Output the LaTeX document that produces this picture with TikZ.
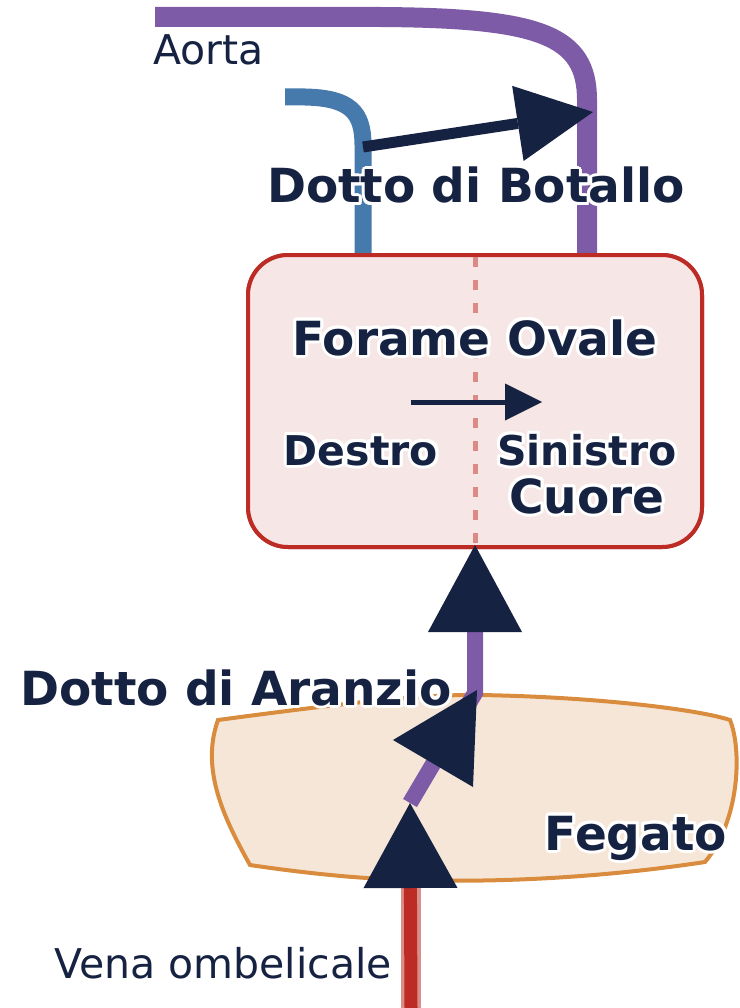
\documentclass[tikz,border=0pt]{standalone}
\usepackage{fontspec}
\setmainfont{DejaVu Sans}
\usepackage{contour}
\contourlength{3pt}
\usetikzlibrary{positioning,arrows.meta}

\definecolor{inchiostro}{HTML}{162241}
\definecolor{aortaviola}{HTML}{7D5BA6}
\definecolor{polmblu}{HTML}{4679AC}
\definecolor{cuorerosso}{HTML}{BC2C25}
\definecolor{cuorefondo}{HTML}{F6E7E6}
\definecolor{settorosa}{HTML}{DB8A85}
\definecolor{fegatobordo}{HTML}{D98C3D}
\definecolor{fegatofondo}{HTML}{F6E6D7}
\definecolor{venachiaro}{HTML}{D98E8A}

\begin{document}
\begin{tikzpicture}[x=1pt,y=-1pt]
    \tikzset{
        titolo/.style={text=inchiostro, inner sep=0pt, font=\bfseries\fontsize{47}{56}\selectfont},
        lato/.style={text=inchiostro, inner sep=0pt, font=\bfseries\fontsize{41}{49}\selectfont},
        nome/.style={text=inchiostro, inner sep=0pt, font=\fontsize{41}{49}\selectfont},
        cuorebox/.style={draw=cuorerosso, fill=cuorefondo, line width=4pt, rounded corners=40pt,
            minimum width=454pt, minimum height=292pt},
        vaso/.style={line width=#1},
        punta/.style={-{Triangle[length=#1, width=#1, line width=0pt, color=inchiostro]}}
    }
    \useasboundingbox (0,0) rectangle (739,1008);

    % fegato
    \draw[fegatobordo, fill=fegatofondo, line width=4pt]
        (218,720) .. controls (330,705) and (420,694) .. (480,695)
        .. controls (600,697) and (700,710) .. (730,720)
        .. controls (742,750) and (740,820) .. (705,862)
        .. controls (600,878) and (480,885) .. (367,878)
        .. controls (320,875) and (270,868) .. (250,865)
        .. controls (225,820) and (200,770) .. (218,720) -- cycle;
    \node[titolo, anchor=base] (fegato) at (636,850) {\contour{white}{Fegato}};

    % vasi in alto
    \coordinate (aortaIn) at (155,17);
    \coordinate (aortaX) at (587,0);
    \coordinate (polmIn) at (285,97);
    \coordinate (polmX) at (363,0);
    \node[cuorebox] (cuore) at (475,401) {};

    \draw[aortaviola, vaso=20pt] (aortaIn) -- (380,17)
        .. controls (540,18) and (587,35) .. (587,100) -- (cuore.north -| aortaX);
    \draw[polmblu, vaso=17pt] (polmIn) -- (305,97)
        .. controls (350,98) and (363,112) .. (363,145) -- (cuore.north -| polmX);
    \node[cuorebox] at (cuore) {};
    \draw[settorosa, line width=5pt, dash pattern=on 10pt off 13pt]
        ([yshift=-4pt]cuore.north) -- ([yshift=4pt]cuore.south);

    \node[nome, anchor=base west] (aorta) at (153,65) {\contour{white}{Aorta}};

    % dotto di Botallo
    \coordinate (botS) at (363,147);
    \coordinate (botE) at (593,112);
    \draw[inchiostro, vaso=11pt, punta=76pt] (botS) -- (botE);
    \node[titolo, anchor=base] (botallo) at (476,203) {\contour{white}{Dotto di Botallo}};

    % cuore
    \node[titolo, anchor=base] (forame) at (475,355) {\contour{white}{Forame Ovale}};
    \coordinate (foroS) at (411,402);
    \coordinate (foroE) at (542,402);
    \draw[inchiostro, vaso=5pt, punta=37pt] (foroS) -- (foroE);
    \node[lato, anchor=base] (destro) at (361,465) {\contour{white}{Destro}};
    \node[lato, anchor=base] (sinistro) at (587,465) {\contour{white}{Sinistro}};
    \node[titolo, anchor=base] (cuorelbl) at (587,513) {\contour{white}{Cuore}};

    % dotto di Aranzio
    \coordinate (aranzioIn) at (410,803);
    \coordinate (aranzioMid) at (475,693);
    \draw[aortaviola, vaso=16pt,
        -{Triangle[length=87pt, width=94pt, line width=0pt, color=inchiostro]}]
        (aranzioIn) -- (aranzioMid) -- ([yshift=4pt]cuore.south);
    \fill[inchiostro] (477,690) -- (393,740) -- (473,787) -- cycle;
    \node[titolo, anchor=base] (aranzio) at (236,705) {\contour{white}{Dotto di Aranzio}};

    % vena ombelicale
    \coordinate (venaIn) at (411,1008);
    \draw[venachiaro, vaso=20pt] (venaIn) -- (411,880);
    \draw[cuorerosso, vaso=13pt,
        -{Triangle[length=85pt, width=94pt, line width=0pt, color=inchiostro]}]
        (venaIn) -- (aranzioIn);
    \node[nome, anchor=base] (vena) at (223,978) {\contour{white}{Vena ombelicale}};
\end{tikzpicture}
\end{document}
